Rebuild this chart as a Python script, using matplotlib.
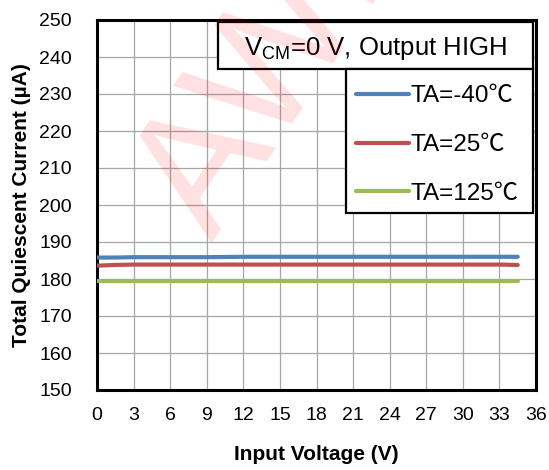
import matplotlib
matplotlib.use("Agg")
import matplotlib.pyplot as plt
from matplotlib.patches import Rectangle

plt.rcParams['font.family'] = ['Liberation Sans', 'Noto Sans CJK SC', 'DejaVu Sans']

# --- DATA ---
vin = [0, 1.5, 3, 6, 9, 12, 15, 18, 21, 24, 27, 30, 33, 34.5]
iq_m40 = [185.8, 185.8, 185.9, 185.9, 185.9, 186.0, 186.0, 186.0, 186.0, 186.0, 186.0, 186.0, 186.0, 186.0]
iq_25 = [183.6, 183.8, 183.9, 183.9, 183.9, 183.9, 183.9, 183.9, 183.9, 183.9, 183.9, 183.9, 183.9, 183.8]
iq_125 = [179.4, 179.4, 179.4, 179.4, 179.4, 179.4, 179.4, 179.4, 179.4, 179.4, 179.4, 179.4, 179.4, 179.4]
labels = ["TA=-40℃", "TA=25℃", "TA=125℃"]
colors = ["#4F81BD", "#C0504D", "#9BBB59"]

xticks = list(range(0, 37, 3))
yticks = list(range(150, 251, 10))

fig = plt.figure(figsize=(5.49, 4.70), dpi=100)
ax = fig.add_axes([97 / 549, 80 / 470, 439 / 549, 370 / 470])

# faint watermark
fig.text(0.318, 0.538, "AWINIC", fontsize=125, color="#FF0000", alpha=0.12,
         rotation=56, rotation_mode='anchor', ha='left', va='center', zorder=0)

handles = []
for ys, lab, c in zip([iq_m40, iq_25, iq_125], labels, colors):
    h, = ax.plot(vin, ys, color=c, linewidth=3, solid_capstyle='round', label=lab, zorder=3)
    handles.append(h)

ax.set_xlim(0, 36)
ax.set_ylim(150, 250)
ax.set_xticks(xticks)
ax.set_yticks(yticks)
ax.tick_params(length=0, labelsize=14)
ax.tick_params(axis='x', pad=12)
ax.tick_params(axis='y', pad=18)
ax.grid(True, color="#A6A6A6", linewidth=0.9)
ax.set_axisbelow(True)
for sp in ax.spines.values():
    sp.set_linewidth(2.2)
    sp.set_color("black")
ax.patch.set_alpha(0)

ax.set_xlabel("Input Voltage (V)", fontsize=15, fontweight='bold', labelpad=15)
ax.set_ylabel("Total Quiescent Current (µA)", fontsize=15, fontweight='bold', labelpad=6)

# title box
ax.add_patch(Rectangle((0.2756, 0.8676), 0.7176, 0.127, transform=ax.transAxes,
                       facecolor='white', edgecolor='black', linewidth=1.6, zorder=5))
ax.text(0.634, 0.922, r"V$_{\mathregular{CM}}$=0 V, Output HIGH", transform=ax.transAxes,
        ha='center', va='center', fontsize=18.5, zorder=6)

# legend box
ax.add_patch(Rectangle((0.567, 0.4784), 0.4262, 0.3892, transform=ax.transAxes,
                       facecolor='white', edgecolor='black', linewidth=1.6, zorder=5))
leg = ax.legend(handles=handles, loc='center left', bbox_to_anchor=((356 - 97) / 439, 0.662),
                frameon=False, fontsize=17.5, borderpad=0, borderaxespad=0,
                handlelength=2.2, handletextpad=0.05, labelspacing=1.1)
leg.set_zorder(7)

fig.savefig("out.png", dpi=100)
